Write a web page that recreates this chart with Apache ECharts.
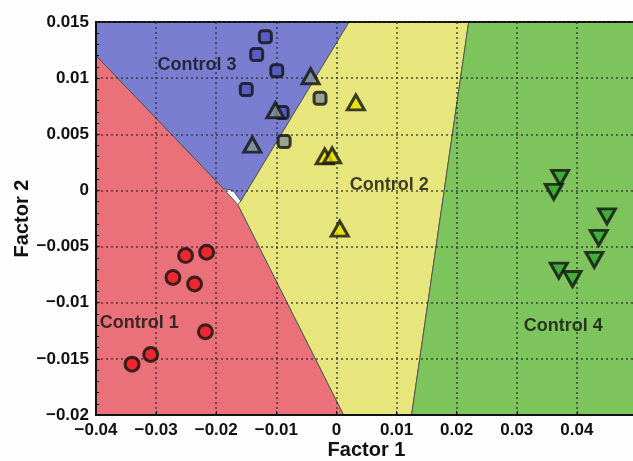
<!DOCTYPE html>
<html>
<head>
<meta charset="utf-8">
<script src="https://cdn.jsdelivr.net/npm/echarts@6/dist/echarts.min.js"></script>
<style>
html,body{margin:0;padding:0;background:#fdfdfd;}
#chart{width:633px;height:461px;}
</style>
</head>
<body>
<div id="chart"></div>
<script>
// Region polygons (data coordinates)
var regionBlue = [[-0.04,0.015],[0.0021,0.015],[-0.0159,-0.00095],[-0.0172,0.0000],[-0.0188,0.00016],[-0.04,0.012]];
var regionRed = [[-0.04,0.012],[-0.0188,0.00016],[-0.0164,-0.00127],[0.0012,-0.02],[-0.04,-0.02]];
var regionYellow = [[0.0021,0.015],[0.022,0.015],[0.0125,-0.02],[0.0012,-0.02],[-0.0164,-0.00127],[-0.0159,-0.00095]];
var regionGreen = [[0.022,0.015],[0.06,0.015],[0.06,-0.02],[0.0125,-0.02]];

// Control 1 (circles)
var control1 = [[-0.0251,-0.0058],[-0.0216,-0.0055],[-0.0272,-0.00775],[-0.0236,-0.00833],[-0.0218,-0.01258],[-0.0309,-0.01461],[-0.0340,-0.01547]];
// Control 3 (squares) with fill class
var control3 = [[-0.01183,0.01368],[-0.01327,0.0121],[-0.00993,0.01065],[-0.0150,0.00898],[-0.00904,0.00693],[-0.0087,0.00435],[-0.00273,0.0082]];
var control3Fill = ['blue','blue','blue','blue','blue','grey','grey'];
// Control 2 (up triangles)
var control2 = [[-0.0043,0.01017],[0.00323,0.00785],[-0.01016,0.00714],[-0.0140,0.00408],[-0.00195,0.00304],[-0.00072,0.00313],[0.00055,-0.0034]];
var control2Fill = ['grey','yellow','grey','grey','yellow','yellow','yellow'];
// Control 4 (down triangles)
var control4 = [[0.03721,0.00111],[0.03615,-0.00013],[0.0450,-0.00231],[0.04363,-0.00423],[0.0429,-0.00619],[0.03699,-0.00715],[0.03928,-0.00789]];

var regionLabels = [
  {name:'Control 3', value:[-0.0232,0.0112]},
  {name:'Control 2', value:[0.00879,0.00052]},
  {name:'Control 1', value:[-0.0328,-0.01178]},
  {name:'Control 4', value:[0.03774,-0.01205]}
];

var xTicks = {min:-0.04, max:0.05, interval:0.01};
var yTicks = {min:-0.02, max:0.015, interval:0.005};

var fills = {blue:'#4f58c2', grey:'#84948e', yellow:'#e6e000', green:'#30aa30', red:'#e8161e'};

function fmt(v){
  var s = String(Number(v.toFixed(4)));
  return s.replace('-', '\u2212');
}

function regionSeries(points, color){
  return {
    type:'custom', coordinateSystem:'cartesian2d', z:-1, silent:true, clip:true,
    data:[0],
    renderItem:function(params, api){
      var pts = points.map(function(p){ return api.coord(p); });
      return {type:'polygon', shape:{points:pts}, style:{fill:color, stroke:'#555', lineWidth:1}};
    }
  };
}

var chart = echarts.init(document.getElementById('chart'));
var gridLine = {show:true, lineStyle:{color:'rgba(40,40,40,0.8)', width:1.5, type:[2,3]}};
var option = {
  animation:false,
  backgroundColor:'#fdfdfd',
  grid:{left:96, top:22, right:-4, bottom:46, show:true, borderColor:'#111', borderWidth:2, backgroundColor:'transparent', outerBoundsMode:'none', containLabel:false},
  xAxis:{
    type:'value', min:xTicks.min, max:xTicks.max, interval:xTicks.interval,
    name:'Factor 1', nameLocation:'middle', nameGap:25, nameMoveOverlap:false,
    nameTextStyle:{fontFamily:'Liberation Sans', fontWeight:'bold', fontSize:20, color:'#111'},
    axisLine:{show:true, onZero:false, lineStyle:{color:'#111', width:2}},
    axisTick:{show:true, inside:true, length:4, lineStyle:{color:'#111'}},
    axisLabel:{fontFamily:'Liberation Sans', fontWeight:'bold', fontSize:17, color:'#111', margin:7,
      formatter:function(v){ return v > 0.045 ? '' : fmt(v); }},
    splitLine:gridLine
  },
  yAxis:{
    type:'value', min:yTicks.min, max:yTicks.max, interval:yTicks.interval,
    name:'Factor 2', nameLocation:'middle', nameGap:64, nameRotate:90, nameMoveOverlap:false,
    nameTextStyle:{fontFamily:'Liberation Sans', fontWeight:'bold', fontSize:20, color:'#111'},
    axisLine:{show:true, onZero:false, lineStyle:{color:'#111', width:2}},
    axisTick:{show:true, inside:true, length:4, lineStyle:{color:'#111'}},
    minorTick:{show:true, splitNumber:5, length:3, lineStyle:{color:'#111'}},
    axisLabel:{fontFamily:'Liberation Sans', fontWeight:'bold', fontSize:17, color:'#111', margin:7,
      formatter:function(v){ return fmt(v); }},
    splitLine:gridLine
  },
  series:[
    regionSeries(regionBlue, '#7a7ed0'),
    regionSeries(regionRed, '#ea7179'),
    regionSeries(regionYellow, '#e6e67c'),
    regionSeries(regionGreen, '#7ec45c'),
    {
      type:'scatter', symbol:'circle', symbolSize:14, z:5,
      itemStyle:{color:fills.red, borderColor:'#111', borderWidth:3},
      data:control1
    },
    {
      type:'scatter', symbol:'roundRect', symbolSize:12, z:5,
      itemStyle:{borderColor:'#111', borderWidth:3},
      data:control3.map(function(p,i){ return {value:p, itemStyle:{color:fills[control3Fill[i]]}}; })
    },
    {
      type:'scatter', symbol:'triangle', symbolSize:[17,15], z:5,
      itemStyle:{borderColor:'#111', borderWidth:3},
      data:control2.map(function(p,i){ return {value:p, itemStyle:{color:fills[control2Fill[i]]}}; })
    },
    {
      type:'scatter', symbol:'triangle', symbolRotate:180, symbolSize:[17,15], z:5,
      itemStyle:{color:fills.green, borderColor:'#111', borderWidth:3},
      data:control4
    },
    {
      type:'scatter', symbolSize:0, z:6, silent:true,
      label:{show:true, position:'inside', formatter:'{b}', fontFamily:'Liberation Sans', fontWeight:'bold', fontSize:18, color:'#111'},
      data:regionLabels
    }
  ]
};
chart.setOption(option);
</script>
</body>
</html>
